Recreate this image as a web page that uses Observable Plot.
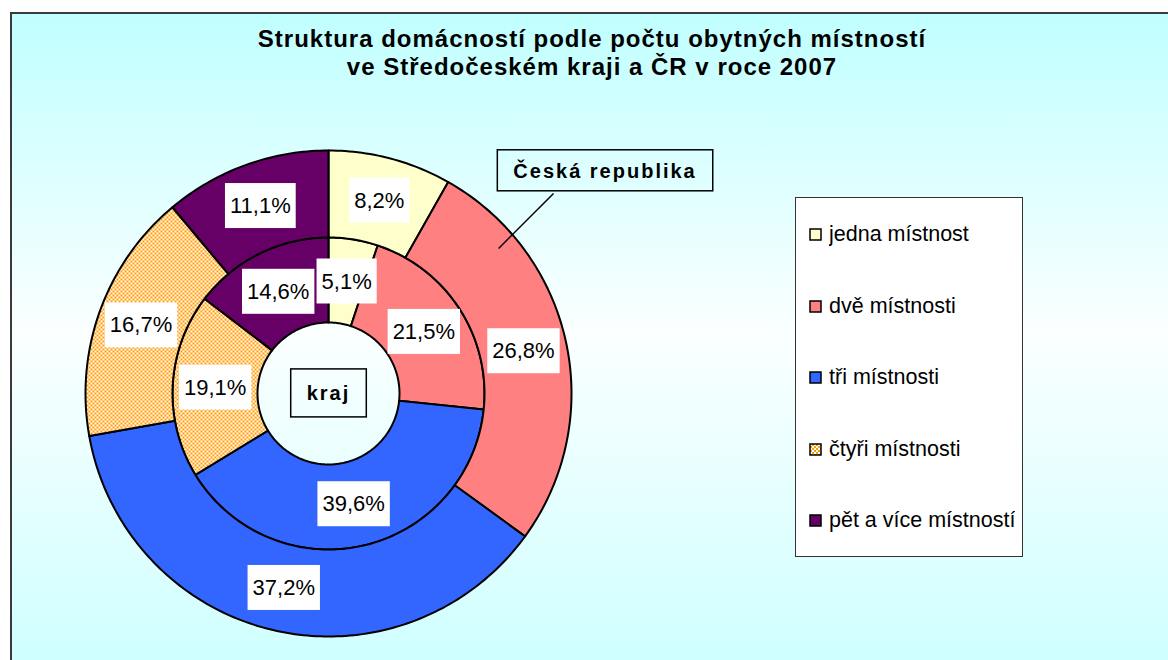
<!DOCTYPE html>
<html>
<head>
<meta charset="utf-8">
<script src="https://cdn.jsdelivr.net/npm/d3@7"></script>
<script src="https://cdn.jsdelivr.net/npm/@observablehq/plot@0.6"></script>
<style>
  html, body { margin: 0; padding: 0; background: #ffffff; width: 1168px; height: 660px; overflow: hidden; }
  #frame {
    position: absolute; left: 10px; top: 12px; width: 1164px; height: 668px;
    border-left: 2px solid #3a3a3a; border-top: 2px solid #3a3a3a;
    background: linear-gradient(to bottom, #c0ffff 0%, #fbffff 48%, #ccffff 100%);
    font-family: "Liberation Sans", Arial, sans-serif;
  }
  #title {
    position: absolute; left: 0; top: 11px; width: 1160px; text-align: center;
    font-weight: bold; font-size: 24px; letter-spacing: 1px; line-height: 28px; color: #000;
  }
  #chart { position: absolute; left: 0; top: 86px; }
  #legend {
    position: absolute; left: 783px; top: 183px; width: 226px; height: 358px;
    border: 1.5px solid #333; background: #ffffff;
  }
  #legend .lg-swatches { margin: 0 !important; padding-top: 1px; font-family: "Liberation Sans", Arial, sans-serif !important; font-size: 21.5px !important; color: #000; }
  #legend .lg-swatch { height: 71.5px; display: flex !important; align-items: center; padding: 0 0 0 14px !important; }
  #legend .lg-swatch svg { overflow: visible; margin-right: 8px !important; }
  #legend .lg-swatch svg rect { stroke: #000; stroke-width: 1.5px; }
</style>
</head>
<body>
<svg width="0" height="0" style="position:absolute">
  <defs>
    <pattern id="checker" width="4" height="4" patternUnits="userSpaceOnUse">
      <rect width="4" height="4" fill="#ff9900"></rect>
      <rect x="0" y="0" width="2" height="2" fill="#ffffff"></rect>
      <rect x="2" y="2" width="2" height="2" fill="#ffffff"></rect>
    </pattern>
  </defs>
</svg>
<div id="frame">
  <div id="title">Struktura domácností podle počtu obytných místností<br>ve Středočeském kraji a ČR v roce 2007</div>
  <div id="chart"></div>
  <div id="legend"></div>
</div>
<script>
// ---- data ----
const categories = ["jedna místnost", "dvě místnosti", "tři místnosti", "čtyři místnosti", "pět a více místností"];
const krajValues = [5.1, 21.5, 39.6, 19.1, 14.6];   // inner ring (Středočeský kraj)
const crValues   = [8.2, 26.8, 37.2, 16.7, 11.1];   // outer ring (Česká republika)
const ringNames  = ["kraj", "Česká republika"];
const colors     = ["#ffffcc", "#ff8080", "#3366ff", "url(#checker)", "#660066"];

// ---- layout ----
const W = 770, H = 560, CX = 316, CY = 293, R = 243;
const holeR = 71 / R, midR = 156 / R, outR = 1;

const rings = [
  {name: ringNames[0], values: krajValues, r0: holeR, r1: midR},
  {name: ringNames[1], values: crValues, r0: midR, r1: outR}
];
const fmt = v => v.toFixed(1).replace(".", ",") + "%";
const pie = d3.pie().sort(null).value(d => d).startAngle(0).endAngle(2 * Math.PI);

const wedgePts = [];
const labelRows = [];
for (const rg of rings) {
  pie(rg.values).forEach((a, i) => {
    const key = rg.name + "-" + i;
    const span = a.endAngle - a.startAngle;
    const n = Math.max(2, Math.ceil(span / (Math.PI / 180)));
    const pts = [];
    for (let k = 0; k <= n; k++) { const t = a.startAngle + span * k / n; pts.push([rg.r1 * Math.sin(t), rg.r1 * Math.cos(t)]); }
    for (let k = n; k >= 0; k--) { const t = a.startAngle + span * k / n; pts.push([rg.r0 * Math.sin(t), rg.r0 * Math.cos(t)]); }
    pts.push(pts[0]);
    pts.forEach(([x, y]) => wedgePts.push({key, category: categories[i], x, y}));
    const m = (a.startAngle + a.endAngle) / 2, rm = (rg.r0 + rg.r1) / 2;
    labelRows.push({x: rm * Math.sin(m), y: rm * Math.cos(m), text: fmt(a.data)});
  });
}

// annotations (ring names)
const annotations = [
  {text: ringNames[0], x: 0, y: 0},
  {text: ringNames[1], x: 1.138, y: 0.914}
];
const leader = [{x1: 0.926, y1: 0.823, x2: 0.700, y2: 0.597}];

const chart = Plot.plot({
  width: W, height: H, margin: 0,
  x: {domain: [-CX / R, (W - CX) / R], range: [0, W], axis: null},
  y: {domain: [-(H - CY) / R, CY / R], range: [H, 0], axis: null},
  color: {domain: categories, range: colors},
  style: {background: "transparent", fontFamily: "Liberation Sans, Arial, sans-serif", overflow: "visible"},
  marks: [
    Plot.line(wedgePts, {x: "x", y: "y", z: "key", fill: "category", stroke: "#000", strokeWidth: 2, strokeLinejoin: "round", curve: "linear"}),
    Plot.link(leader, {x1: "x1", y1: "y1", x2: "x2", y2: "y2", stroke: "#000", strokeWidth: 1.5}),
    Plot.text(labelRows, {x: "x", y: "y", text: "text", fontSize: 22, fill: "#000"}),
    Plot.text(annotations, {x: "x", y: "y", text: "text", fontSize: 20, fontWeight: "bold", fill: "#000"})
  ]
});
document.getElementById("chart").appendChild(chart);

// boxes behind text labels
const textGroups = chart.querySelectorAll('g[aria-label="text"]');
function addBoxes(g, padX, padYs, fill, stroke, spacing) {
  if (!g) return;
  g.querySelectorAll("text").forEach((t, i) => {
    if (spacing) t.style.letterSpacing = spacing;
    const padY = Array.isArray(padYs) ? padYs[i] : padYs;
    const b = t.getBBox();
    const r = document.createElementNS("http://www.w3.org/2000/svg", "rect");
    r.setAttribute("x", b.x - padX);
    r.setAttribute("y", b.y - padY);
    r.setAttribute("width", b.width + 2 * padX);
    r.setAttribute("height", b.height + 2 * padY);
    r.setAttribute("fill", fill);
    r.setAttribute("stroke", stroke);
    r.setAttribute("stroke-width", stroke === "none" ? 0 : 1.5);
    if (t.getAttribute("transform")) r.setAttribute("transform", t.getAttribute("transform"));
    t.parentNode.insertBefore(r, t);
  });
}
addBoxes(textGroups[0], 5, 10, "#ffffff", "none", null);
addBoxes(textGroups[1], 16, [13, 9], "none", "#000", "2px");

// legend
const legend = Plot.legend({
  legend: "swatches",
  color: {domain: categories, range: colors},
  columns: 1,
  swatchSize: 11,
  className: "lg"
});
document.getElementById("legend").appendChild(legend);
</script>
</body>
</html>
